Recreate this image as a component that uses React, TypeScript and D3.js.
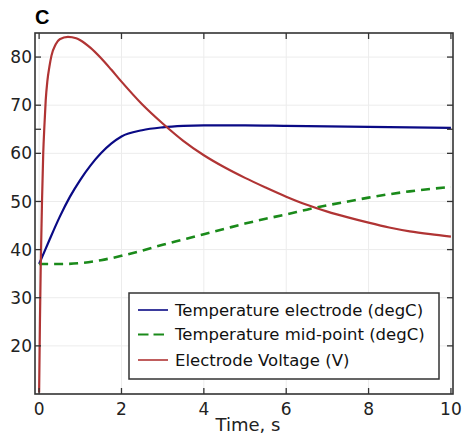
import * as d3 from "d3";

// time (s) and values
const tElectrode = [0, 0.1, 0.25, 0.5, 0.75, 1, 1.25, 1.5, 1.75, 2, 2.5, 3, 3.5, 4, 5, 6, 7, 8, 9, 10];
const tempElectrode = [37, 39, 42, 46.8, 51, 54.5, 57.5, 60, 62, 63.5, 64.8, 65.4, 65.7, 65.8, 65.8, 65.7, 65.6, 65.5, 65.4, 65.3];

const tMid = [0, 0.5, 1, 1.5, 2, 2.5, 3, 3.5, 4, 4.5, 5, 5.5, 6, 6.5, 7, 7.5, 8, 8.5, 9, 9.5, 10];
const tempMid = [37, 37, 37.2, 37.8, 38.7, 39.8, 41, 42.1, 43.2, 44.3, 45.4, 46.4, 47.3, 48.3, 49.2, 50, 50.8, 51.5, 52.1, 52.6, 53];

const tVoltage = [0, 0.02, 0.04, 0.07, 0.1, 0.13, 0.16, 0.2, 0.25, 0.3, 0.4, 0.5, 0.7, 0.9, 1, 1.25, 1.5, 1.75, 2, 2.5, 3, 3.5, 4, 4.5, 5, 5.5, 6, 6.5, 7, 7.5, 8, 8.5, 9, 9.5, 10];
const voltage = [10.3, 25, 37, 50, 60, 66, 71, 75, 78, 80.3, 82.6, 83.7, 84.2, 83.9, 83.5, 81.9, 79.8, 77.4, 74.9, 70.2, 66.2, 62.6, 59.6, 57.1, 54.9, 52.9, 51, 49.3, 47.9, 46.7, 45.6, 44.6, 43.8, 43.2, 42.7];

const xTicks = [0, 2, 4, 6, 8, 10];
const yTicks = [20, 30, 40, 50, 60, 70, 80];
const yExtraTicks = [65];

const seriesNames = [
  "Temperature electrode (degC)",
  "Temperature mid-point (degC)",
  "Electrode Voltage (V)"
];

const W = 464;
const H = 442;
const left = 35, right = 453, top = 33, bottom = 394;
const font = "DejaVu Sans, sans-serif";
const frame = "#333";

export default function App() {
  const x = d3.scaleLinear().domain([-0.1, 10.05]).range([left, right]);
  const y = d3.scaleLinear().domain([10, 85]).range([bottom, top]);

  const line = (ts: number[], vs: number[]) =>
    d3.line<number>()
      .x((_, i) => x(ts[i]))
      .y(v => y(v))
      .curve(d3.curveMonotoneX)(vs) || "";

  const series = [
    { d: line(tElectrode, tempElectrode), color: "#0a0a85", dash: undefined, w: 2.2 },
    { d: line(tMid, tempMid), color: "#1a8a1a", dash: "9 6", w: 2.6 },
    { d: line(tVoltage, voltage), color: "#b03434", dash: undefined, w: 2.2 }
  ];

  const tick = 6;
  const lg = { x0: 129, y0: 293, x1: 439, y1: 379 };
  const rowY = [310, 334.5, 360];

  return (
    <svg width={W} height={H} style={{ position: "absolute", left: 0, top: 0, background: "#fff" }}>
      <defs>
        <clipPath id="plot">
          <rect x={left} y={top} width={right - left} height={bottom - top} />
        </clipPath>
      </defs>
      <text x={35} y={24} fontFamily="Liberation Sans, Arial, sans-serif" fontWeight="bold" fontSize={20}>C</text>

      {/* grid */}
      {xTicks.map(t => (
        <line key={"gx" + t} x1={x(t)} x2={x(t)} y1={top} y2={bottom} stroke="#ececec" strokeWidth={1} />
      ))}
      {yTicks.map(t => (
        <line key={"gy" + t} x1={left} x2={right} y1={y(t)} y2={y(t)} stroke="#ececec" strokeWidth={1} />
      ))}

      {/* curves */}
      <g clipPath="url(#plot)">
        {series.map((s, i) => (
          <path key={i} d={s.d} fill="none" stroke={s.color} strokeWidth={s.w} strokeDasharray={s.dash} />
        ))}
      </g>

      {/* frame and ticks */}
      <rect x={left} y={top} width={right - left} height={bottom - top} fill="none" stroke={frame} strokeWidth={1.6} />
      {xTicks.map(t => (
        <g key={"tx" + t}>
          <line x1={x(t)} x2={x(t)} y1={bottom} y2={bottom - tick} stroke={frame} strokeWidth={1.3} />
          <line x1={x(t)} x2={x(t)} y1={top} y2={top + tick} stroke={frame} strokeWidth={1.3} />
          <text x={x(t)} y={415} textAnchor="middle" fontFamily={font} fontSize={17} fill="#222">{t}</text>
        </g>
      ))}
      {[...yTicks, ...yExtraTicks].map(t => (
        <g key={"ty" + t}>
          <line x1={left} x2={left + tick} y1={y(t)} y2={y(t)} stroke={frame} strokeWidth={1.3} />
          <line x1={right} x2={right - tick} y1={y(t)} y2={y(t)} stroke={frame} strokeWidth={1.3} />
          {yTicks.includes(t) && (
            <text x={32} y={y(t)} dy="0.36em" textAnchor="end" fontFamily={font} fontSize={17} fill="#222">{t}</text>
          )}
        </g>
      ))}
      <text x={248} y={431} textAnchor="middle" fontFamily={font} fontSize={18} fill="#222">Time, s</text>

      {/* legend */}
      <rect x={lg.x0} y={lg.y0} width={lg.x1 - lg.x0} height={lg.y1 - lg.y0} fill="#fff" stroke={frame} strokeWidth={1.5} />
      {series.map((s, i) => (
        <g key={"lg" + i}>
          <line x1={138} x2={168} y1={rowY[i]} y2={rowY[i]} stroke={s.color} strokeWidth={s.dash ? 2.2 : 1.6} strokeDasharray={s.dash ? "10.5 5" : undefined} />
          <text x={175} y={rowY[i]} dy="0.36em" fontFamily={font} fontSize={16.5} fill="#111">{seriesNames[i]}</text>
        </g>
      ))}
    </svg>
  );
}
